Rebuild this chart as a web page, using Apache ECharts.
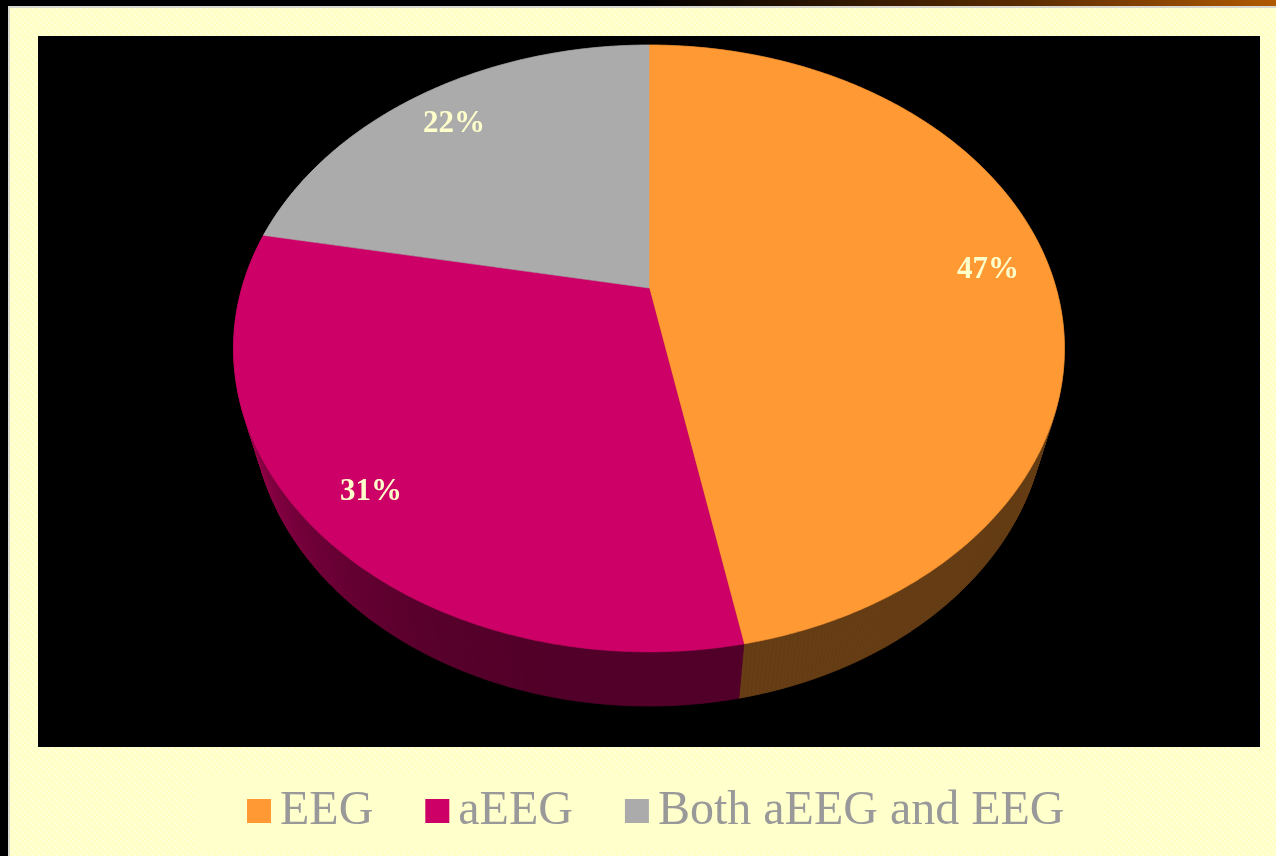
<!DOCTYPE html>
<html>
<head>
<meta charset="utf-8">
<title>EEG / aEEG usage</title>
<script src="https://cdn.jsdelivr.net/npm/echarts@6/dist/echarts.min.js"></script>
<style>
  html, body { margin: 0; padding: 0; background: #ffffc4; }
  #chart { width: 1276px; height: 856px; }
</style>
</head>
<body>
<div id="chart"></div>
<script>
// Monitoring method shares (percent)
const categories = ['EEG', 'aEEG', 'Both aEEG and EEG'];
const shares = [47, 31, 22];
const sliceColors = ['#ff9933', '#cc0066', '#ababab'];

// Perspective view of the tilted pie disc
const VIEW = {
  cx: 649, cy: 288,      // projected disc centre
  F: 1425.6, D: 3.502,   // focal scale and camera distance (disc radius = 1)
  s: 0.7158, c: 0.698,   // sin / cos of camera elevation
  h: 0.218               // disc thickness
};

function project(thetaDeg, r, y) {
  const t = thetaDeg * Math.PI / 180;
  const u = r * Math.sin(t);
  const v = -r * Math.cos(t);
  const d = VIEW.D - y * VIEW.s - v * VIEW.c;
  return [VIEW.cx + VIEW.F * u / d, VIEW.cy + VIEW.F * (v * VIEW.s - y * VIEW.c) / d];
}

function shade(hex, f) {
  const n = parseInt(hex.slice(1), 16);
  const r = Math.round(((n >> 16) & 255) * f);
  const g = Math.round(((n >> 8) & 255) * f);
  const b = Math.round((n & 255) * f);
  return 'rgb(' + r + ',' + g + ',' + b + ')';
}

const total = shares.reduce((a, b) => a + b, 0);

function renderSlice(idx) {
  return function (params, api) {
    let before = 0;
    for (let k = 0; k < idx; k++) before += shares[k];
    const a0 = before / total * 360;
    const a1 = (before + shares[idx]) / total * 360;
    const base = sliceColors[idx];
    const children = [];
    const step = 0.5;
    const n = Math.max(2, Math.ceil((a1 - a0) / step));

    // outer wall, shaded by facing direction
    for (let j = 0; j < n; j++) {
      const ta = a0 + (a1 - a0) * j / n;
      const tb = a0 + (a1 - a0) * (j + 1) / n;
      const mid = (ta + tb) / 2 * Math.PI / 180;
      const f = 0.4 + 0.4 * Math.pow(Math.max(0, -Math.sin(mid)), 3);
      const col = shade(base, f);
      children.push({
        type: 'polygon',
        z2: 1,
        shape: { points: [project(ta, 1, 0), project(tb, 1, 0), project(tb, 1, -VIEW.h), project(ta, 1, -VIEW.h)] },
        style: { fill: col, stroke: col, lineWidth: 0.8 }
      });
    }

    // top face
    const pts = [project(0, 0, 0)];
    for (let j = 0; j <= n; j++) pts.push(project(a0 + (a1 - a0) * j / n, 1, 0));
    children.push({
      type: 'polygon',
      z2: 10,
      shape: { points: pts },
      style: { fill: base, stroke: base, lineWidth: 0.6 }
    });

    // percentage label
    const lp = project((a0 + a1) / 2, 0.85, 0);
    children.push({
      type: 'text',
      z2: 20,
      x: lp[0],
      y: lp[1] + 5,
      style: {
        text: shares[idx] + '%',
        fill: '#ffffcc',
        font: 'bold 31px "Liberation Serif", "Times New Roman", serif',
        align: 'center',
        verticalAlign: 'middle',
        textAlign: 'center',
        textVerticalAlign: 'middle'
      }
    });
    return { type: 'group', children: children };
  };
}

// diagonal stripe texture for the slide background
const tile = document.createElement('canvas');
tile.width = 6; tile.height = 6;
(function () {
  const g = tile.getContext('2d');
  g.fillStyle = '#ffffc2';
  g.fillRect(0, 0, 6, 6);
  g.strokeStyle = '#ffffd8';
  g.lineWidth = 2.2;
  for (let k = -6; k <= 6; k += 6) {
    g.beginPath();
    g.moveTo(k, 0);
    g.lineTo(k + 6, 6);
    g.stroke();
  }
})();

const chart = echarts.init(document.getElementById('chart'), null, { renderer: 'canvas' });

const option = {
  animation: false,
  color: sliceColors,
  graphic: [
    { type: 'rect', z: -10, shape: { x: 0, y: 0, width: 1276, height: 856 }, style: { fill: { image: tile, repeat: 'repeat' } }, silent: true },
    { type: 'rect', z: -9, shape: { x: 0, y: 0, width: 1276, height: 6 },
      style: { fill: new echarts.graphic.LinearGradient(0, 0, 1, 0, [
        { offset: 0, color: '#000000' }, { offset: 0.5, color: '#000000' },
        { offset: 0.8, color: '#5a2c02' }, { offset: 1, color: '#b05a00' }]) }, silent: true },
    { type: 'rect', z: -9, shape: { x: 0, y: 0, width: 8, height: 856 }, style: { fill: '#000000' }, silent: true },
    { type: 'rect', z: -9, shape: { x: 8, y: 6, width: 1268, height: 2 }, style: { fill: '#d9d9d0' }, silent: true },
    { type: 'rect', z: -9, shape: { x: 8, y: 6, width: 2, height: 850 }, style: { fill: '#d9d9d0' }, silent: true },
    { type: 'rect', z: -8, shape: { x: 38, y: 36, width: 1222, height: 711 }, style: { fill: '#000000' }, silent: true },
    { type: 'rect', z: -8, shape: { x: 194, y: 775, width: 909, height: 77 }, style: { fill: '#ffffcc' }, silent: true }
  ],
  legend: {
    data: categories,
    left: 247,
    top: 787,
    padding: 0,
    icon: 'rect',
    itemWidth: 24,
    itemHeight: 24,
    itemGap: 52,
    selectedMode: false,
    textStyle: {
      fontFamily: '"Liberation Serif", "Times New Roman", serif',
      fontSize: 48,
      color: '#999999',
      padding: [0, 0, 0, 4]
    }
  },
  series: categories.map((name, i) => ({
    type: 'custom',
    name: name,
    coordinateSystem: 'none',
    silent: true,
    data: [[shares[i]]],
    renderItem: renderSlice(i)
  }))
};

chart.setOption(option);
</script>
</body>
</html>
